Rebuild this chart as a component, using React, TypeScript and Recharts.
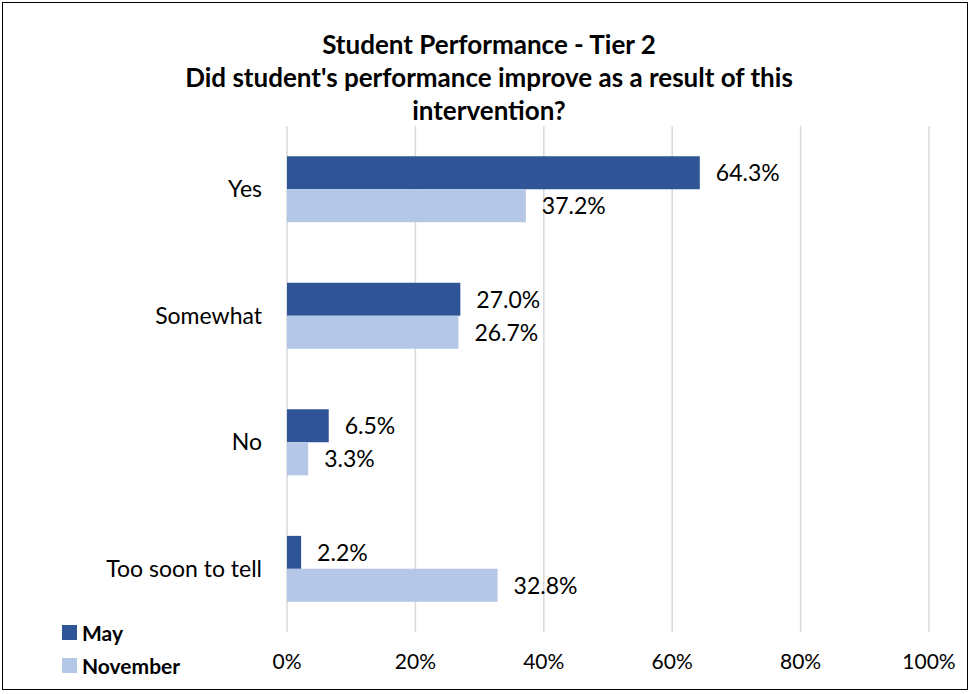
import { BarChart, Bar, XAxis, YAxis, CartesianGrid, LabelList } from "recharts";

const categories = ["Yes", "Somewhat", "No", "Too soon to tell"];
const mayValues = [64.3, 27.0, 6.5, 2.2];
const novemberValues = [37.2, 26.7, 3.3, 32.8];
const xTicks = [0, 20, 40, 60, 80, 100];
const titleLines = [
  "Student Performance - Tier 2",
  "Did student's performance improve as a result of this",
  "intervention?",
];

const MAY = "#2F5597";
const NOV = "#B4C7E7";
const FONT = "Lato, 'Open Sans', sans-serif";

const data = categories.map((name, i) => ({
  name,
  may: mayValues[i],
  november: novemberValues[i],
}));

function LegendBox() {
  const items = [
    { label: "May", color: MAY },
    { label: "November", color: NOV },
  ];
  return (
    <div
      style={{
        position: "absolute", left: 62, top: 616, zIndex: 1,
        fontFamily: FONT, fontWeight: 700, fontSize: 21, color: "#000",
      }}
    >
      {items.map((it) => (
        <div key={it.label} style={{ display: "flex", alignItems: "center", height: 33 }}>
          <span style={{ width: 15, height: 15, background: it.color, marginRight: 5, display: "inline-block" }} />
          {it.label}
        </div>
      ))}
    </div>
  );
}

export default function App() {
  return (
    <div style={{ position: "absolute", left: 0, top: 0, width: 972, height: 694, background: "#fff" }}>
      <div
        style={{
          position: "absolute", left: 2, top: 2, width: 966, height: 688,
          border: "1px solid #000", boxSizing: "border-box", pointerEvents: "none", zIndex: 2,
        }}
      />
      <div
        style={{
          position: "absolute", left: 0, top: 28, width: 978, textAlign: "center",
          fontFamily: FONT, fontWeight: 700, fontSize: 26, lineHeight: "33px", color: "#000", zIndex: 1,
        }}
      >
        {titleLines.map((t) => (
          <div key={t}>{t}</div>
        ))}
      </div>
      <LegendBox />
      <BarChart
        width={972}
        height={694}
        data={data}
        layout="vertical"
        margin={{ top: 126, right: 43, bottom: 0, left: 0 }}
        barCategoryGap="24%"
        barGap={0}
      >
        <CartesianGrid horizontal={false} stroke="#D9D9D9" strokeWidth={1.5} />
        <XAxis
          type="number"
          domain={[0, 100]}
          ticks={xTicks}
          tickFormatter={(v) => `${v}%`}
          axisLine={false}
          tickLine={false}
          height={62}
          tickMargin={16}
          tick={{ fontFamily: FONT, fontSize: 21, fill: "#000" }}
        />
        <YAxis
          type="category"
          dataKey="name"
          width={287}
          axisLine={false}
          tickLine={false}
          tickMargin={19}
          tick={{ fontFamily: FONT, fontSize: 23, fill: "#000" }}
        />
        <Bar dataKey="may" name="May" fill={MAY} isAnimationActive={false}>
          <LabelList
            dataKey="may"
            position="right"
            offset={16}
            formatter={(v: number) => `${v.toFixed(1)}%`}
            style={{ fontFamily: FONT, fontSize: 23, fill: "#000" }}
          />
        </Bar>
        <Bar dataKey="november" name="November" fill={NOV} isAnimationActive={false}>
          <LabelList
            dataKey="november"
            position="right"
            offset={16}
            formatter={(v: number) => `${v.toFixed(1)}%`}
            style={{ fontFamily: FONT, fontSize: 23, fill: "#000" }}
          />
        </Bar>
      </BarChart>
    </div>
  );
}
